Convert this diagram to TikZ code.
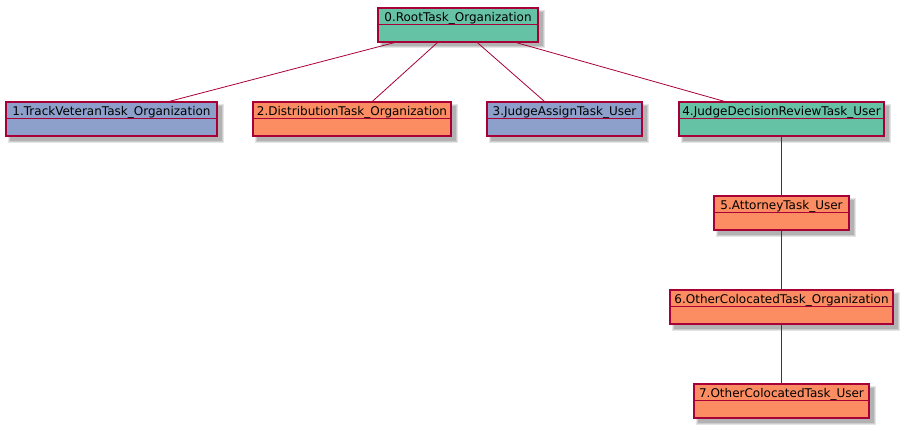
\documentclass[tikz,border=0pt]{standalone}
\usepackage{fontspec}
\setmainfont{DejaVu Sans}
\usetikzlibrary{fit,calc}
\definecolor{umlborder}{HTML}{A80036}
\definecolor{cgreen}{HTML}{66C2A5}
\definecolor{corange}{HTML}{FC8D62}
\definecolor{cblue}{HTML}{8DA0CB}
\tikzset{
  objbox/.style={draw=umlborder, line width=1.25pt, inner sep=0pt},
  objline/.style={draw=umlborder, line width=1.25pt},
  objtext/.style={inner sep=0pt, anchor=base, font=\fontsize{12}{14}\selectfont, text=black},
  edge/.style={draw=umlborder, line width=0.8pt}
}
\newcommand\umlobj[7]{%
  \fill[black!10] (#2+2,#3+2) rectangle (#4+6.5,#5+6.5);
  \fill[black!20] (#2+3,#3+3) rectangle (#4+5.5,#5+5.5);
  \fill[black!30] (#2+4,#3+4) rectangle (#4+4.5,#5+4.5);
  \node[objbox, fill=#6, fit={(#2,#3) (#4,#5)}] (#1) {};
  \draw[objline] ([yshift=-17pt]#1.north west) -- ([yshift=-17pt]#1.north east);
  \node[objtext] (#1t) at ([yshift=-14pt]#1.north) {#7};
}
\begin{document}
\begin{tikzpicture}[x=1pt, y=-1pt]
\useasboundingbox[fill=white] (0,0) rectangle (902,428);
\umlobj{n0}{378}{8}{538}{42}{cgreen}{0.RootTask\_Organization}
\umlobj{n1}{6}{102}{217}{136}{cblue}{1.TrackVeteranTask\_Organization}
\umlobj{n2}{253}{102}{451}{136}{corange}{2.DistributionTask\_Organization}
\umlobj{n3}{487}{102}{642}{136}{cblue}{3.JudgeAssignTask\_User}
\umlobj{n4}{679}{102}{884}{136}{cgreen}{4.JudgeDecisionReviewTask\_User}
\umlobj{n5}{714}{196}{849}{230}{corange}{5.AttorneyTask\_User}
\umlobj{n6}{670}{290}{893}{324}{corange}{6.OtherColocatedTask\_Organization}
\umlobj{n7}{694}{384}{869}{418}{corange}{7.OtherColocatedTask\_User}
\draw[edge] ([xshift=17pt]n0.south west) -- ([xshift=164pt]n1.north west);
\draw[edge] ([xshift=60pt]n0.south west) -- ([xshift=120pt]n2.north west);
\draw[edge] ([xshift=100pt]n0.south west) -- ([xshift=58pt]n3.north west);
\draw[edge] ([xshift=139pt]n0.south west) -- ([xshift=46pt]n4.north west);
\draw[edge] (n4.south) -- (n5.north);
\draw[edge] (n5.south) -- (n6.north);
\draw[edge] (n6.south) -- (n7.north);
\end{tikzpicture}
\end{document}
